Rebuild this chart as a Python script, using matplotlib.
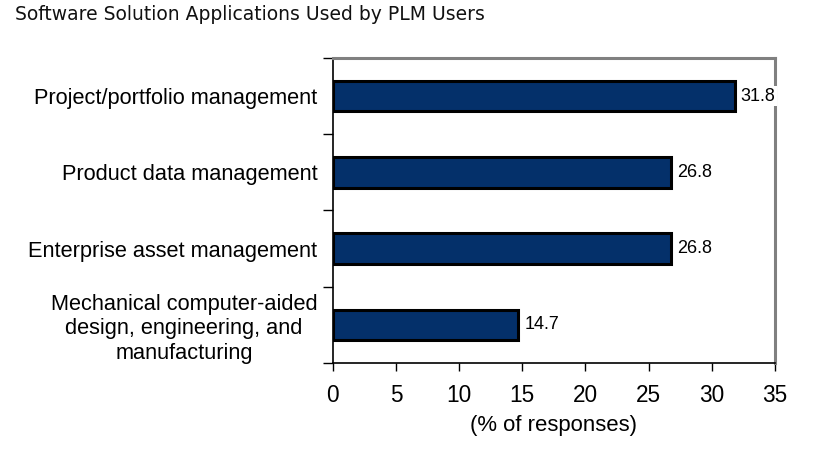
import numpy as np
import matplotlib.pyplot as plt

categories = ['Project/portfolio management',
              'Product data management',
              'Enterprise asset management',
              'Mechanical computer-aided\ndesign, engineering, and\nmanufacturing']
values = [31.8, 26.8, 26.8, 14.7]
xticks = [0, 5, 10, 15, 20, 25, 30, 35]

plt.rcParams['font.family'] = ['Liberation Sans', 'DejaVu Sans']

fig = plt.figure(figsize=(8.36, 4.49), dpi=100)
ax = fig.add_axes([0.398, 0.1915, 0.529, 0.6795])

y = np.arange(len(categories))
ax.barh(y, values, height=0.4, color='#04306a', edgecolor='black', linewidth=2.2, zorder=2)

for yi, v in zip(y, values):
    ax.text(v + 0.45, yi, f'{v:.1f}', va='center', ha='left', fontsize=13,
            zorder=5, clip_on=False,
            bbox=dict(facecolor='white', edgecolor='none', pad=1))

ax.set_ylim(len(categories) - 0.5, -0.5)
ax.set_xlim(0, 35)

# tick marks sit between categories, labels sit on the bars
ax.set_yticks(np.arange(len(categories) + 1) - 0.5)
ax.set_yticklabels([])
ax.set_yticks(y, minor=True)
ax.set_yticklabels(categories, minor=True, fontsize=15.7, multialignment='center')
ax.tick_params(axis='y', which='minor', length=0, pad=11)
ax.tick_params(axis='y', which='major', length=7, width=1, direction='out')

ax.set_xticks(xticks)
ax.set_xticklabels([str(t) for t in xticks], fontsize=16.3)
ax.tick_params(axis='x', length=6, width=1, direction='out', pad=9)
ax.set_xlabel('(% of responses)', fontsize=15.9, labelpad=6)

for side in ['top', 'right']:
    ax.spines[side].set_color('#808080')
    ax.spines[side].set_linewidth(2.2)
for side in ['left', 'bottom']:
    ax.spines[side].set_color('black')
    ax.spines[side].set_linewidth(1.2)

fig.text(0.018, 0.988, 'Software Solution Applications Used by PLM Users',
         fontsize=13.5, family='DejaVu Sans', color='#111111', va='top', ha='left')

fig.savefig('out.png', dpi=100)
